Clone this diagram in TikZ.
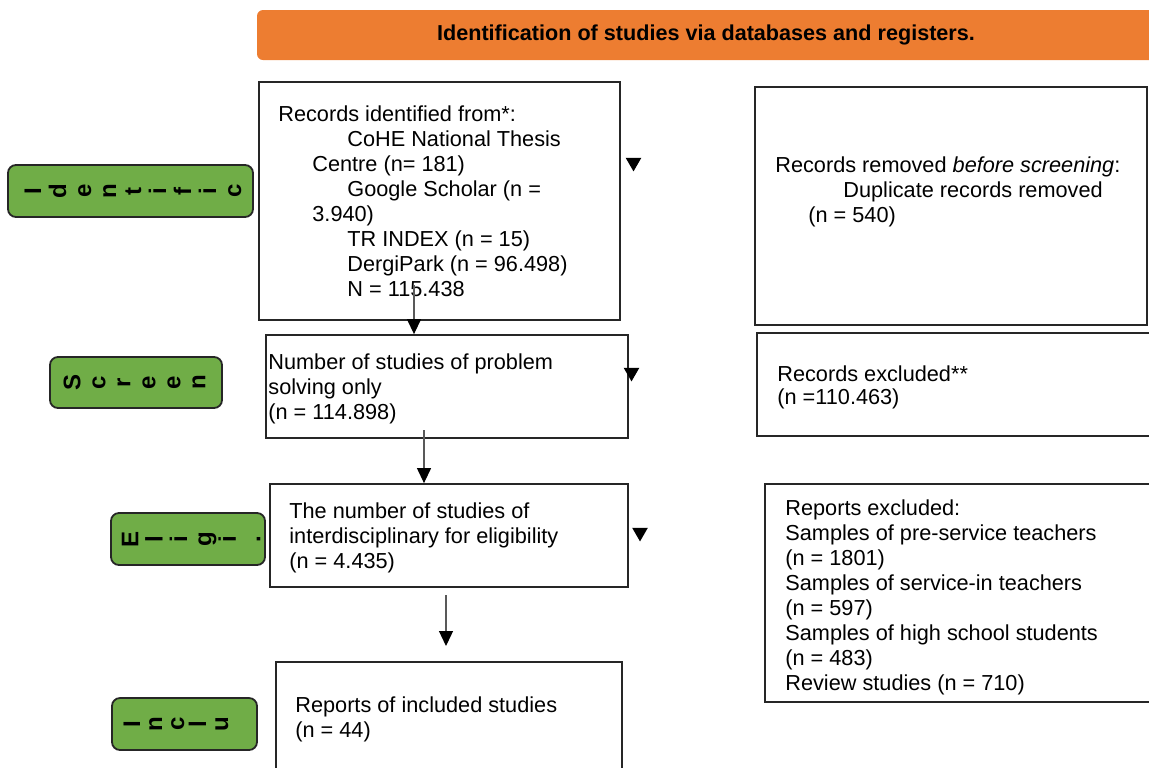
\documentclass[tikz,border=0pt]{standalone}
\usepackage{fontspec}
\setmainfont{Liberation Sans}
\usetikzlibrary{arrows.meta,shapes.geometric}
\definecolor{hdrorange}{HTML}{ED7D31}
\definecolor{lblgreen}{HTML}{70AD47}
\begin{document}
\begin{tikzpicture}[x=0.5pt,y=-0.5pt,
  txt/.style={font=\fontsize{10.85pt}{12.5pt}\selectfont, align=left, anchor=north west, inner sep=0pt},
  box/.style={draw=black!85, line width=0.9pt, inner sep=0pt},
  greenlbl/.style={draw=black!85, line width=0.9pt, fill=lblgreen, rounded corners=4pt, inner sep=0pt},
  letters/.style={rotate=90, align=center, inner sep=0pt, font=\bfseries\fontsize{12pt}{#1}\selectfont},
  hdr/.style={fill=hdrorange, rounded corners=3pt, inner sep=0pt, font=\bfseries\fontsize{10.8pt}{12pt}\selectfont},
  arr/.style={draw=black!65, line width=0.6pt, -{Triangle[width=7pt,length=7.5pt,black]}},
  headtri/.style={regular polygon, regular polygon sides=3, shape border rotate=180, fill=black, inner sep=0pt, minimum size=9pt}
]
\clip (0,0) rectangle (1149,767);
\useasboundingbox (0,0) rectangle (1149,767);

% header
\node[hdr, minimum width=449pt, minimum height=25pt] (hdr) at (706,35) {Identification of studies via databases and registers.};

% boxes
\node[box, minimum width=180.5pt, minimum height=119pt] (b1) at (439.5,201) {};
\node[box, minimum width=196pt, minimum height=119pt] (r1) at (951,206) {};
\node[box, minimum width=181pt, minimum height=51.5pt] (b2) at (447,386.5) {};
\node[box, minimum width=206.5pt, minimum height=51.5pt] (r2) at (963.5,384.5) {};
\node[box, minimum width=179pt, minimum height=51.5pt] (b3) at (449,535.5) {};
\node[box, minimum width=202.5pt, minimum height=109pt] (r3) at (967.5,593) {};
\node[box, minimum width=173pt, minimum height=59pt] (b4) at (449,721) {};

% texts
\node[txt] (t1) at (278,101) {\rule{0pt}{10pt}Records identified from*:\\
\hspace*{34.5pt}CoHE National Thesis\\
\hspace*{17pt}Centre (n= 181)\\
\hspace*{34.5pt}Google Scholar (n =\\
\hspace*{17pt}3.940)\\
\hspace*{34.5pt}TR INDEX (n = 15)\\
\hspace*{34.5pt}DergiPark (n = 96.498)\\
\hspace*{34.5pt}N = 115.438};
\node[txt] (tr1) at (775,152) {\rule{0pt}{10pt}Records removed \textit{before screening}:\\
\hspace*{34pt}Duplicate records removed\\
\hspace*{16.5pt}(n = 540)};
\node[txt] (t2) at (268,349) {\rule{0pt}{10pt}Number of studies of problem\\solving only\\(n = 114.898)};
\node[txt, font=\fontsize{10.85pt}{11.5pt}\selectfont] (tr2) at (777,361) {\rule{0pt}{10pt}Records excluded**\\(n =110.463)};
\node[txt] (t3) at (289,498) {\rule{0pt}{10pt}The number of studies of\\interdisciplinary for eligibility\\(n = 4.435)};
\node[txt] (tr3) at (785,495) {\rule{0pt}{10pt}Reports excluded:\\
Samples of pre-service teachers\\
(n = 1801)\\
Samples of service-in teachers\\
(n = 597)\\
Samples of high school students\\
(n = 483)\\
Review studies (n = 710)};
\node[txt] (t4) at (295,692) {\rule{0pt}{10pt}Reports of included studies\\(n = 44)};

% green side labels
\node[greenlbl, minimum width=122.5pt, minimum height=26pt] (g1) at (130.5,191) {};
\node[letters=12.5pt] (l1) at (133,191) {I\\d\\e\\n\\t\\i\\f\\i\\c};
\node[greenlbl, minimum width=86pt, minimum height=25.5pt] (g2) at (136,382.5) {};
\node[letters=12.5pt] (l2) at (134.5,382.5) {S\\c\\r\\e\\e\\n};
\node[greenlbl, minimum width=77pt, minimum height=26pt] (g3) at (188,539) {};
\node[letters=12.2pt] (l3) at (191,539) {E\\l\\i\\g\\i\\.};
\node[greenlbl, minimum width=72.5pt, minimum height=26pt] (g4) at (184.5,724) {};
\node[letters=11pt] (l4) at (176,724) {I\\n\\c\\l\\u};

% arrows
\coordinate (a1s) at (414,285);
\draw[arr] (a1s) -- (a1s |- b2.north);
\coordinate (a2s) at (424,430);
\draw[arr] (a2s) -- (a2s |- b3.north);
\coordinate (a3s) at (446,595);
\coordinate (a3e) at (446,646);
\draw[arr] (a3s) -- (a3e);

% broken arrowheads
\node[headtri] (h1) at (633.5,162.4) {};
\node[headtri] (h2) at (631.5,372.4) {};
\node[headtri] (h3) at (640,532.4) {};
\end{tikzpicture}
\end{document}
